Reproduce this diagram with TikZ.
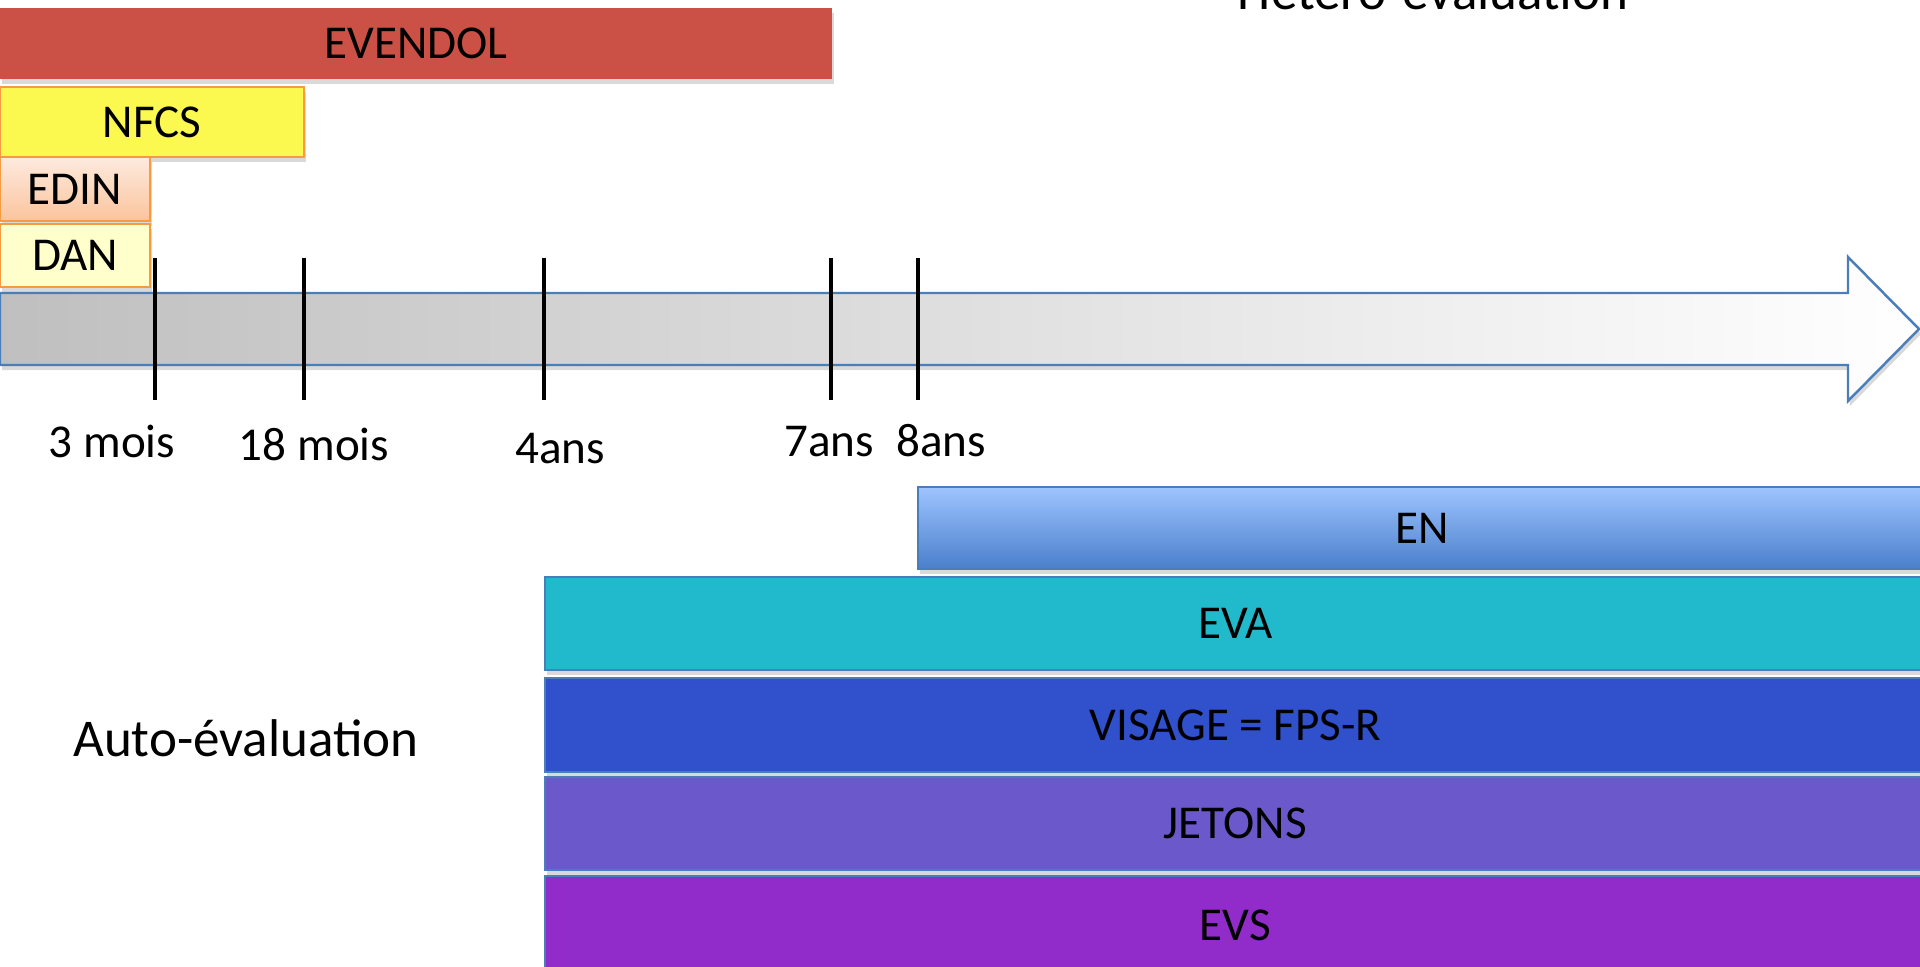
\documentclass[tikz,border=0pt]{standalone}
\usepackage{fontspec}
\setmainfont{Carlito}
\usetikzlibrary{shadows}
\definecolor{evendolred}{HTML}{CB5146}
\definecolor{nfcsyellow}{HTML}{FBF850}
\definecolor{edintop}{HTML}{FDEADF}
\definecolor{edinbot}{HTML}{FBC49C}
\definecolor{danyellow}{HTML}{FFFFCC}
\definecolor{orangeedge}{HTML}{F79B43}
\definecolor{blueedge}{HTML}{4A7EBB}
\definecolor{entop}{HTML}{9EC4FF}
\definecolor{enbot}{HTML}{4A7FCB}
\definecolor{evacyan}{HTML}{21B9CC}
\definecolor{visageblue}{HTML}{3050CC}
\definecolor{jetonsviolet}{HTML}{6B59CC}
\definecolor{evspurple}{HTML}{912BCA}

\begin{document}
\begin{tikzpicture}[x=0.01cm,y=-0.01cm,font=\fontsize{13.4}{16}\selectfont,
  bar/.style={rectangle,anchor=north west,inner sep=0pt,outer sep=0pt,
    drop shadow={opacity=0.3,shadow xshift=0.02cm,shadow yshift=-0.05cm}},
  orangebar/.style={draw=orangeedge,line width=0.6pt},
  bluebar/.style={draw=blueedge,line width=0.6pt},
  bigtext/.style={anchor=base,font=\fontsize{15.1}{18}\selectfont}]
\useasboundingbox (0,0) rectangle (1920,966);
\clip (0,0) rectangle (1920,966);
% heading (cut at the top)
\node[bigtext] (hetero) at (1433,9) {Hétéro-évaluation};
% scales before the axis
\node[bar,fill=evendolred,minimum width=8.32cm,minimum height=0.71cm] (evendol) at (0,8) {EVENDOL};
\node[bar,orangebar,fill=nfcsyellow,minimum width=3.04cm,minimum height=0.70cm] (nfcs) at (0,87) {NFCS};
\node[bar,orangebar,top color=edintop,bottom color=edinbot,minimum width=1.50cm,minimum height=0.64cm] (edin) at (0,157) {EDIN};
\node[bar,orangebar,fill=danyellow,minimum width=1.50cm,minimum height=0.63cm] (dan) at (0,224) {DAN};
% age axis
\draw[blueedge,line width=0.7pt,left color=black!25,right color=white,
  drop shadow={opacity=0.3,shadow xshift=0.02cm,shadow yshift=-0.05cm}]
  (0,293) -- (1848,293) -- (1848,257) -- (1919,329) -- (1848,401) -- (1848,365) -- (0,365) -- cycle;
% ticks
\foreach \x in {155,304,544,831,918}{
  \draw[line width=1.1pt] (\x,258) -- (\x,400);
}
\foreach \x/\y/\lab [count=\i] in {112/457/3 mois,314/460/18 mois,560/463/4ans,829/456/7ans,941/456/8ans}{
  \node[anchor=base,inner sep=0pt] (age\i) at (\x,\y) {\lab};
}
% scales after the axis
\node[bar,bluebar,top color=entop,bottom color=enbot,minimum width=10.07cm,minimum height=0.82cm] (en) at (918,487) {EN};
\node[bar,bluebar,fill=evacyan,minimum width=13.80cm,minimum height=0.93cm] (eva) at (545,577) {EVA};
\node[bar,bluebar,fill=visageblue,minimum width=13.80cm,minimum height=0.94cm] (visage) at (545,678) {VISAGE = FPS-R};
\node[bar,bluebar,fill=jetonsviolet,minimum width=13.80cm,minimum height=0.93cm] (jetons) at (545,777) {JETONS};
\node[bar,bluebar,fill=evspurple,minimum width=13.80cm,minimum height=0.98cm] (evs) at (545,876) {EVS};
\node[bigtext] (auto) at (246,756) {Auto-évaluation};
\end{tikzpicture}
\end{document}
